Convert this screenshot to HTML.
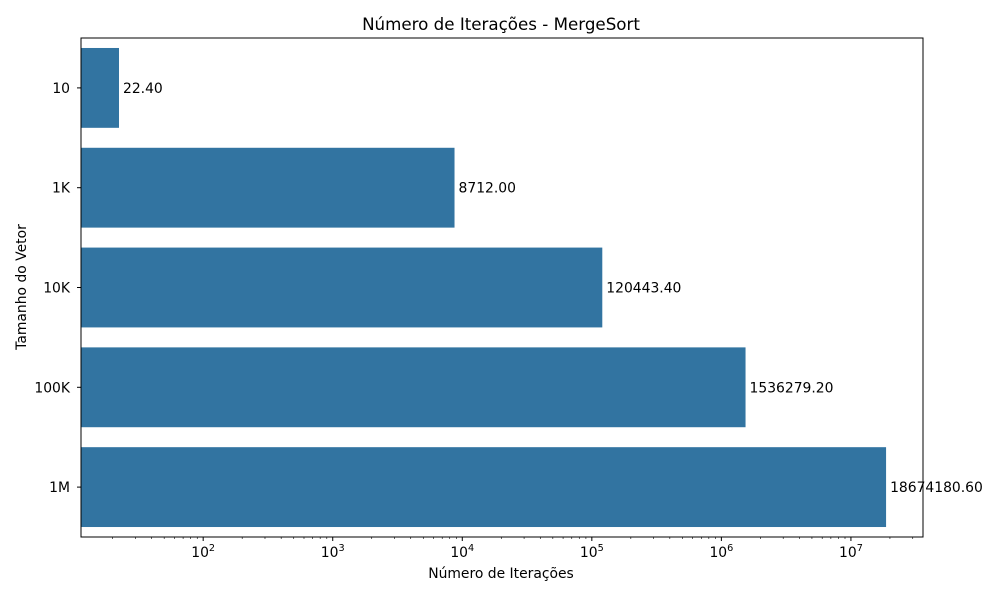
<!DOCTYPE html>
<html><head><meta charset="utf-8"><style>
body{margin:0;background:#fff;font-family:"Liberation Sans","DejaVu Sans",sans-serif;}
svg text{font-family:"DejaVu Sans","Liberation Sans",sans-serif;}
</style></head><body>
<svg id="chart" width="1000" height="600" xmlns="http://www.w3.org/2000/svg">
<rect width="1000" height="600" fill="#fff"/>
<text x="501" y="30" font-size="16.7" text-anchor="middle">Número de Iterações - MergeSort</text>
<text x="501" y="578" font-size="13.9" text-anchor="middle">Número de Iterações</text>
<text transform="translate(26,287) rotate(-90)" font-size="13.9" text-anchor="middle">Tamanho do Vetor</text>
<g id="bars"></g><g id="axes"></g>
</svg>
<script>
const categories=["10","1K","10K","100K","1M"];
const values=[22.40,8712.00,120443.40,1536279.20,18674180.60];
const valueLabels=["22.40","8712.00","120443.40","1536279.20","18674180.60"];
const tickExps=[2,3,4,5,6,7];
const L=81,R=923,T=38,B=537;
const lmin=Math.log10(11.4),lmax=Math.log10(3.6e7);
const x=v=>L+(Math.log10(v)-lmin)/(lmax-lmin)*(R-L);
const band=(B-T)/categories.length;
const ns="http://www.w3.org/2000/svg";
const bars=document.getElementById('bars'),axes=document.getElementById('axes');
function mk(t,a,p){const e=document.createElementNS(ns,t);for(const k in a)e.setAttribute(k,a[k]);p.appendChild(e);return e;}
categories.forEach((c,i)=>{
 const yc=T+band*(i+0.5);
 const r=mk('rect',{x:L,y:yc-band*0.4,width:x(values[i])-L,height:band*0.8,fill:'#3274a1'},bars);
 
 
 const t=mk('text',{x:x(values[i])+4,y:yc+5,'font-size':13.9},bars);t.textContent=valueLabels[i];
 
 
 mk('line',{x1:L-4,x2:L,y1:yc,y2:yc,stroke:'#000'},axes);
 const yl=mk('text',{x:L-11,y:yc+5,'font-size':13.9,'text-anchor':'end'},axes);yl.textContent=c;
 
 
});
for(let e=1;e<=7;e++)for(let m=2;m<10;m++){const v=m*Math.pow(10,e);if(v>11.4&&v<3.6e7){const xx=x(v);mk('line',{x1:xx,x2:xx,y1:B,y2:B+2,stroke:'#000','stroke-width':0.6},axes);}}
tickExps.forEach(e=>{const xx=x(Math.pow(10,e));mk('line',{x1:xx,x2:xx,y1:B,y2:B+4,stroke:'#000'},axes);
 const t=mk('text',{x:xx,y:B+20,'font-size':13.9,'text-anchor':'middle'},axes);
 
 
 t.innerHTML='10<tspan dy="-6" font-size="9.7">'+e+'</tspan>';});
mk('rect',{x:L,y:T,width:R-L,height:B-T,fill:'none',stroke:'#000','stroke-width':1},axes);
</script>
</body></html>
